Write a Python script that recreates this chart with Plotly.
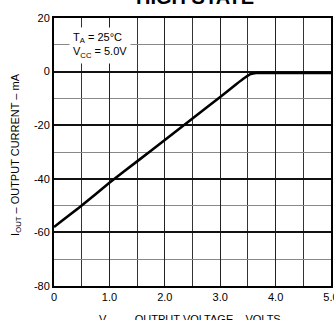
import plotly.graph_objects as go

# Data
v_out = [0.0, 0.5, 1.0, 1.5, 2.0, 2.5, 3.0, 3.3, 3.45, 3.55, 3.65, 4.0, 4.5, 5.0]
i_out = [-58.0, -50.0, -41.5, -33.5, -25.5, -17.5, -9.5, -4.5, -2.2, -0.9, -0.5, -0.5, -0.5, -0.5]

x_tick_vals = [0, 1, 2, 3, 4, 5]
x_tick_text = ["0", "1.0", "2.0", "3.0", "4.0", "5.0"]
y_tick_vals = [20, 0, -20, -40, -60, -80]
y_tick_text = ["20", "0", "-20", "-40", "-60", "-80"]

title_text = "HIGH STATE"
x_title = "V<sub>OUT</sub> – OUTPUT VOLTAGE – VOLTS"
y_title = "I<sub>OUT</sub> – OUTPUT CURRENT – mA"
cond_text = "T<sub>A</sub> = 25°C<br>V<sub>CC</sub> = 5.0V"

FONT = "Liberation Sans, Arial, sans-serif"

fig = go.Figure()
fig.add_trace(go.Scatter(x=v_out, y=i_out, mode="lines",
                         line=dict(color="black", width=2.6, shape="spline", smoothing=0.4),
                         showlegend=False, hoverinfo="skip"))

fig.update_layout(
    width=334, height=320,
    margin=dict(l=54, r=3, t=18, b=34),
    paper_bgcolor="white", plot_bgcolor="white",
    font=dict(family=FONT, color="black", size=11),
)

fig.update_xaxes(
    range=[0, 5], tickvals=x_tick_vals, ticktext=x_tick_text,
    showgrid=True, gridcolor="#222", gridwidth=1.3,
    minor=dict(dtick=0.5, showgrid=True, gridcolor="#333", gridwidth=1.2),
    showline=True, linecolor="black", linewidth=2, mirror=True,
    ticks="", tickfont=dict(size=11, family=FONT), zeroline=False,
    ticklabeloverflow="allow", automargin=False,
)
fig.update_yaxes(
    range=[-80, 20], tickvals=y_tick_vals, ticktext=y_tick_text,
    showgrid=True, gridcolor="#111", gridwidth=1.6,
    minor=dict(dtick=10, showgrid=True, gridcolor="#888", gridwidth=1),
    showline=True, linecolor="black", linewidth=2, mirror=True,
    ticks="", tickfont=dict(size=11, family=FONT), zeroline=False,
    automargin=False,
)

fig.add_annotation(text=f"<b>{title_text}</b>", xref="paper", yref="paper",
                   x=0.51, y=1.03, xanchor="center", yanchor="bottom",
                   showarrow=False, font=dict(size=20, family=FONT, color="black"))
fig.add_annotation(text=x_title, xref="paper", yref="paper",
                   x=0.49, y=-0.094, xanchor="center", yanchor="top",
                   showarrow=False, font=dict(size=11, family=FONT, color="black"))
fig.add_annotation(text=y_title, xref="paper", yref="paper",
                   x=-0.14, y=0.49, xanchor="center", yanchor="middle", textangle=-90,
                   showarrow=False, font=dict(size=11, family=FONT, color="black"))
fig.add_annotation(text=cond_text, xref="paper", yref="paper",
                   x=0.055, y=0.968, xanchor="left", yanchor="top", align="left",
                   showarrow=False, bgcolor="white", borderpad=3,
                   font=dict(size=11, family=FONT, color="black"))

fig.write_html("out.html", config={"displayModeBar": False},
               post_script="document.body.style.margin='0';document.body.style.overflow='hidden';")
